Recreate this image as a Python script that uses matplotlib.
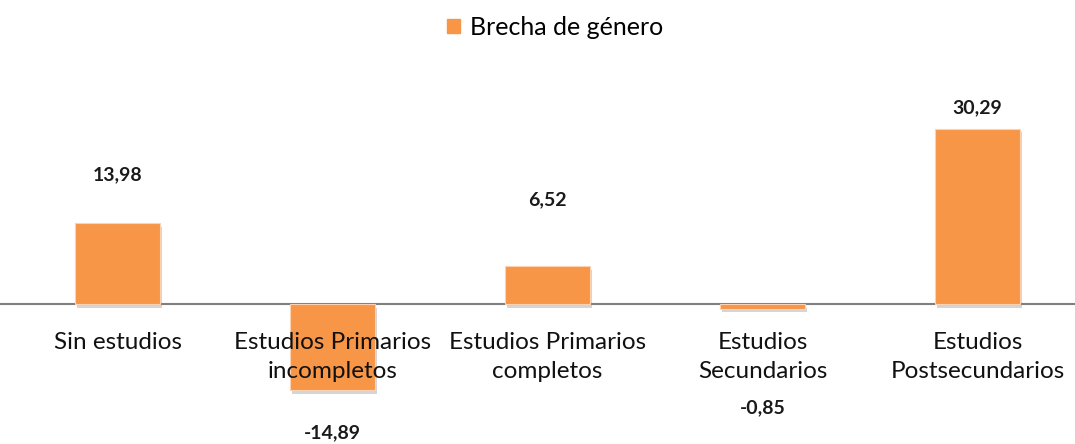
"""
Brecha de género por nivel educativo — bar chart with a zero baseline.
"""

import matplotlib.pyplot as plt
import matplotlib.patheffects as pe
from matplotlib.patches import Patch

# --- data ---------------------------------------------------------------------
categories = [
    "Sin estudios",
    "Estudios Primarios\nincompletos",
    "Estudios Primarios\ncompletos",
    "Estudios\nSecundarios",
    "Estudios\nPostsecundarios",
]
brecha = [13.98, -14.89, 6.52, -0.85, 30.29]
value_labels = ["13,98", "-14,89", "6,52", "-0,85", "30,29"]
# where Excel put each data label (in data units)
label_pos = [22.3, -22.3, 18.0, -18.0, 33.9]

orange = "#F79646"

plt.rcParams["font.family"] = ["Lato", "DejaVu Sans"]

fig = plt.figure(figsize=(10.75, 4.44), dpi=100)
ax = fig.add_axes([0, 0, 1, 1])

x = range(len(categories))
bars = ax.bar(x, brecha, width=0.395, color=orange, edgecolor="#FBD3B4",
              linewidth=0.8, zorder=1)
for b in bars:
    b.set_path_effects([
        pe.SimplePatchShadow(offset=(1.5, -2.5), shadow_rgbFace="#888888", alpha=0.35),
        pe.Normal(),
    ])

for xi, pos, txt in zip(x, label_pos, value_labels):
    ax.text(xi, pos, txt, ha="center", va="center", fontsize=14,
            fontweight="bold", color="#1a1a1a")

# --- axes ---------------------------------------------------------------------
ax.set_xlim(-0.547, 4.453)
ax.set_ylim(-24.2, 52.6)
ax.set_facecolor("none")
for side in ["top", "right", "left"]:
    ax.spines[side].set_visible(False)
ax.spines["bottom"].set_position(("data", 0))
ax.spines["bottom"].set_color("#7f7f7f")
ax.spines["bottom"].set_linewidth(1.5)
ax.spines["bottom"].set_zorder(0.5)
ax.set_yticks([])
ax.set_xticks(list(x))
ax.set_xticklabels(categories, fontsize=17.5, linespacing=1.45, color="#111111")
ax.tick_params(axis="x", length=0, pad=20)

fig.legend(handles=[Patch(color=orange, label="Brecha de género")],
           loc="upper center", bbox_to_anchor=(0.516, 1.015), frameon=False,
           fontsize=18, handlelength=0.52, handleheight=0.52, handletextpad=0.4)

plt.savefig("out.png", dpi=100)
